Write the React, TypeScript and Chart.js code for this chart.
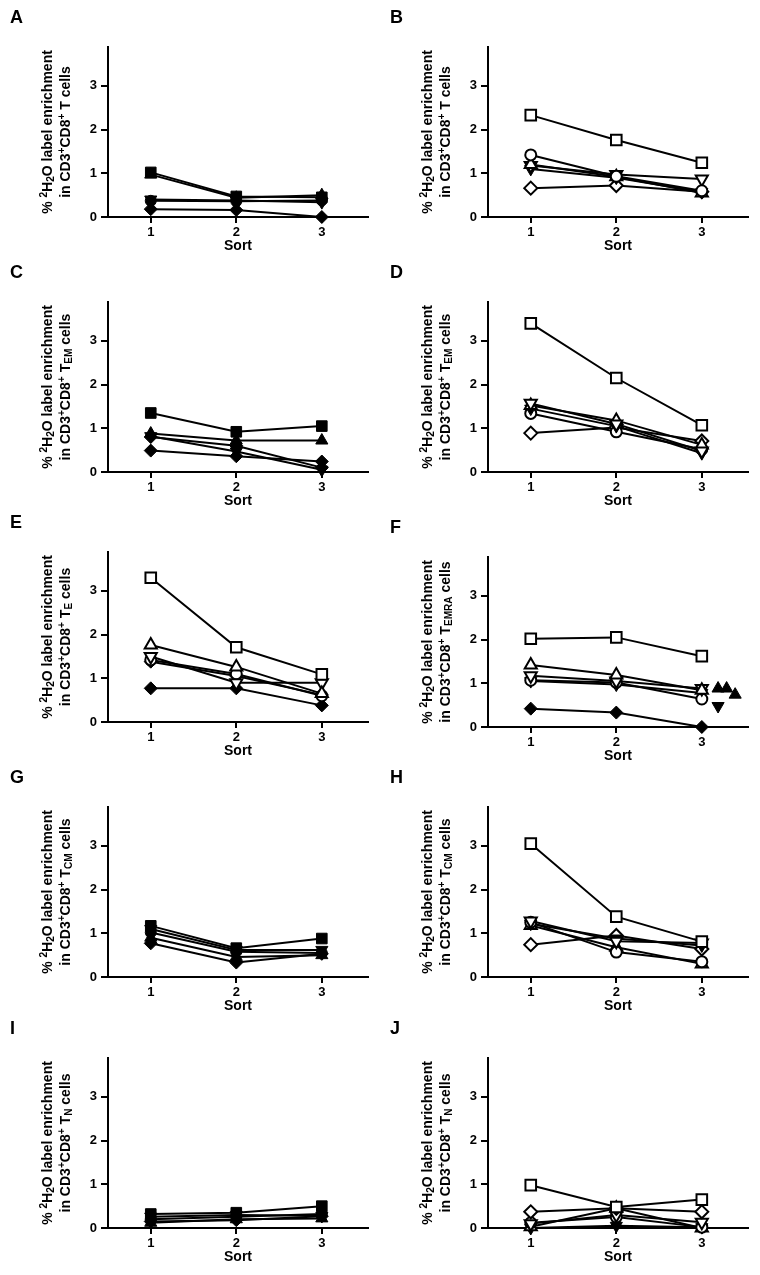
import React, { useEffect, useRef } from "react";
import { Chart, registerables } from "chart.js";

Chart.register(...registerables);

const FONT = '"Liberation Sans", Arial, Helvetica, sans-serif';

const SORTS = [1, 2, 3];
const X_TICKS = [1, 2, 3];
const Y_TICKS = [0, 1, 2, 3];
const X_TITLE = "Sort";

// Panel A (CD3+CD8+ T cells, filled symbols)
const A_VALUES = [
  [1.02, 0.47, 0.45],
  [0.97, 0.44, 0.5],
  [0.4, 0.38, 0.34],
  [0.37, 0.36, 0.38],
  [0.18, 0.16, 0.0],
];
const A_MARKERS = ["square", "triUp", "triDown", "circle", "diamond"];

// Panel B (CD3+CD8+ T cells, open symbols)
const B_VALUES = [
  [2.33, 1.76, 1.24],
  [1.42, 0.93, 0.6],
  [1.2, 0.92, 0.55],
  [1.18, 0.97, 0.87],
  [1.1, 0.9, 0.57],
  [0.66, 0.72, 0.58],
];
const B_MARKERS = ["square-o", "circle-o", "triUp-o", "triDown-o", "triDown", "diamond-o"];

// Panel C (TEM, filled)
const C_VALUES = [
  [1.35, 0.92, 1.05],
  [0.88, 0.72, 0.72],
  [0.82, 0.47, 0.05],
  [0.8, 0.6, 0.1],
  [0.49, 0.36, 0.24],
];
const C_MARKERS = ["square", "triUp", "triDown", "diamond", "diamond"];

// Panel D (TEM, open)
const D_VALUES = [
  [3.4, 2.15, 1.07],
  [1.57, 1.1, 0.48],
  [1.52, 1.18, 0.62],
  [1.45, 1.05, 0.43],
  [1.34, 0.92, 0.52],
  [0.89, 1.02, 0.71],
];
const D_MARKERS = ["square-o", "triDown-o", "triUp-o", "triDown", "circle-o", "diamond-o"];

// Panel E (TE)
const E_VALUES = [
  [3.3, 1.71, 1.09],
  [1.76, 1.26, 0.65],
  [1.5, 0.9, 0.9],
  [1.42, 1.1, 0.6],
  [1.38, 1.05, 0.62],
  [0.77, 0.77, 0.38],
];
const E_MARKERS = ["square-o", "triUp-o", "triDown-o", "circle-o", "diamond", "diamond"];

// Panel F (TEMRA)
const F_VALUES = [
  [2.02, 2.05, 1.62],
  [1.42, 1.19, 0.84],
  [1.17, 1.05, 0.88],
  [1.07, 1.02, 0.64],
  [1.05, 0.97, 0.78],
  [0.42, 0.33, 0.0],
];
const F_MARKERS = ["square-o", "triUp-o", "triDown-o", "circle-o", "triDown", "diamond"];
const F_EXTRA_UP_X = [3.19, 3.29, 3.39];
const F_EXTRA_UP_Y = [0.88, 0.88, 0.74];
const F_EXTRA_DOWN_X = [3.19];
const F_EXTRA_DOWN_Y = [0.48];

// Panel G (TCM, filled)
const G_VALUES = [
  [1.17, 0.66, 0.88],
  [1.1, 0.62, 0.62],
  [1.02, 0.58, 0.55],
  [0.9, 0.46, 0.5],
  [0.77, 0.33, 0.53],
];
const G_MARKERS = ["square", "triDown", "circle", "triUp", "diamond"];

// Panel H (TCM, open)
const H_VALUES = [
  [3.05, 1.38, 0.81],
  [1.28, 0.82, 0.78],
  [1.25, 0.57, 0.35],
  [1.22, 0.88, 0.72],
  [1.18, 0.68, 0.3],
  [0.74, 0.95, 0.64],
];
const H_MARKERS = ["square-o", "triDown-o", "circle-o", "triDown", "triUp-o", "diamond-o"];

// Panel I (TN, filled)
const I_VALUES = [
  [0.32, 0.35, 0.5],
  [0.26, 0.3, 0.28],
  [0.2, 0.26, 0.32],
  [0.12, 0.2, 0.22],
  [0.15, 0.18, 0.27],
];
const I_MARKERS = ["square", "triDown", "circle", "triUp", "diamond"];

// Panel J (TN, open)
const J_VALUES = [
  [0.98, 0.48, 0.65],
  [0.37, 0.45, 0.37],
  [0.1, 0.3, 0.13],
  [0.12, 0.25, 0.02],
  [0.03, 0.45, 0.0],
  [0.0, 0.05, 0.02],
];
const J_MARKERS = ["square-o", "diamond-o", "triDown-o", "circle-o", "triUp-o", "triDown"];

const PANEL_LETTERS = ["A", "B", "C", "D", "E", "F", "G", "H", "I", "J"];
const PANEL_SUBS = ["", "", "EM", "EM", "E", "EMRA", "CM", "CM", "N", "N"];
const PANEL_VALUES = [A_VALUES, B_VALUES, C_VALUES, D_VALUES, E_VALUES, F_VALUES, G_VALUES, H_VALUES, I_VALUES, J_VALUES];
const PANEL_MARKERS = [A_MARKERS, B_MARKERS, C_MARKERS, D_MARKERS, E_MARKERS, F_MARKERS, G_MARKERS, H_MARKERS, I_MARKERS, J_MARKERS];

// layout
const PANEL_ZERO_Y = [217, 217, 472, 472, 722, 727, 977, 977, 1228, 1228];
const COL_X = [0, 380];
const Y_MAX = 3.9;
const PLOT_H = 170.5;
const CANVAS_W = 380;
const CANVAS_H = 242;
const ZERO_IN_CANVAS = 200;
const X_AXIS_H = 37.4;
const Y_AXIS_W = 108;
const PAD_RIGHT = 12;

function markerStyle(m: string) {
  const open = m.endsWith("-o");
  const shape = m.replace("-o", "");
  let pointStyle: any = "circle";
  let radius = 5.5;
  let rotation = 0;
  if (shape === "square") {
    pointStyle = "rect";
    radius = 7.5;
  } else if (shape === "triUp") {
    pointStyle = "triangle";
    radius = 7;
  } else if (shape === "triDown") {
    pointStyle = "triangle";
    radius = 7;
    rotation = 180;
  } else if (shape === "diamond") {
    pointStyle = "rectRot";
    radius = 6.5;
  }
  return {
    pointStyle,
    pointRadius: radius,
    pointHoverRadius: radius,
    pointRotation: rotation,
    pointBackgroundColor: open ? "#ffffff" : "#000000",
    pointBorderColor: "#000000",
    pointBorderWidth: open ? 2 : 1,
  };
}

function Panel({ index }: { index: number }) {
  const ref = useRef<HTMLCanvasElement>(null);
  useEffect(() => {
    const values = PANEL_VALUES[index];
    const markers = PANEL_MARKERS[index];
    const datasets: any[] = values.map((vals, i) => ({
      data: SORTS.map((s, j) => ({ x: s, y: vals[j] })),
      showLine: true,
      borderColor: "#000000",
      borderWidth: 2,
      clip: false,
      ...markerStyle(markers[i]),
    }));
    if (PANEL_LETTERS[index] === "F") {
      datasets.push({
        data: F_EXTRA_UP_X.map((x, j) => ({ x, y: F_EXTRA_UP_Y[j] })),
        showLine: false,
        clip: false,
        ...markerStyle("triUp"),
      });
      datasets.push({
        data: F_EXTRA_DOWN_X.map((x, j) => ({ x, y: F_EXTRA_DOWN_Y[j] })),
        showLine: false,
        clip: false,
        ...markerStyle("triDown"),
      });
    }
    const tickFont = { family: FONT, size: 13, weight: "bold" as const };
    const chart = new Chart(ref.current as HTMLCanvasElement, {
      type: "scatter",
      data: { datasets },
      options: {
        responsive: false,
        animation: false,
        devicePixelRatio: 1,
        layout: {
          autoPadding: false,
          padding: {
            left: 0,
            right: PAD_RIGHT,
            top: ZERO_IN_CANVAS - PLOT_H,
            bottom: CANVAS_H - ZERO_IN_CANVAS - X_AXIS_H,
          },
        },
        plugins: { legend: { display: false }, tooltip: { enabled: false } },
        scales: {
          x: {
            type: "linear",
            min: 0.5,
            max: 3.54,
            afterBuildTicks: (s: any) => {
              s.ticks = X_TICKS.map((v) => ({ value: v }));
            },
            afterFit: (s: any) => {
              s.height = X_AXIS_H;
            },
            grid: { drawOnChartArea: false, drawTicks: true, tickLength: 6, color: "#000", lineWidth: 2 },
            border: { display: true, color: "#000", width: 2 },
            ticks: { color: "#000", font: tickFont, padding: 2, maxRotation: 0, autoSkip: false, callback: (v: any) => String(v) },
            title: {
              display: true,
              text: X_TITLE,
              color: "#000",
              font: { family: FONT, size: 14, weight: "bold" },
              padding: { top: 0, bottom: 0 },
            },
          },
          y: {
            type: "linear",
            min: 0,
            max: Y_MAX,
            afterBuildTicks: (s: any) => {
              s.ticks = Y_TICKS.map((v) => ({ value: v }));
            },
            afterFit: (s: any) => {
              s.width = Y_AXIS_W;
            },
            grid: { drawOnChartArea: false, drawTicks: true, tickLength: 7, color: "#000", lineWidth: 2 },
            border: { display: true, color: "#000", width: 2 },
            ticks: { color: "#000", font: tickFont, padding: 4, autoSkip: false, callback: (v: any) => String(v) },
          },
        },
      } as any,
    });
    return () => chart.destroy();
  }, [index]);

  const col = COL_X[index % 2];
  const zero = PANEL_ZERO_Y[index];
  const sub = PANEL_SUBS[index];
  const supStyle: React.CSSProperties = { fontSize: "0.72em", lineHeight: 0, verticalAlign: "0.5em" };
  const subStyle: React.CSSProperties = { fontSize: "0.72em", lineHeight: 0, verticalAlign: "-0.2em" };
  return (
    <>
      <canvas
        ref={ref}
        width={CANVAS_W}
        height={CANVAS_H}
        style={{ position: "absolute", left: col, top: zero - ZERO_IN_CANVAS, width: CANVAS_W, height: CANVAS_H }}
      />
      <div
        style={{
          position: "absolute",
          left: col + 10,
          top: zero - 210,
          font: `bold 18px ${FONT}`,
          color: "#000",
        }}
      >
        {PANEL_LETTERS[index]}
      </div>
      <div
        style={{
          position: "absolute",
          left: col + 56,
          top: zero - 85,
          transform: "translate(-50%, -50%) rotate(-90deg)",
          whiteSpace: "nowrap",
          textAlign: "center",
          font: `bold 14px ${FONT}`,
          lineHeight: "18px",
          color: "#000",
        }}
      >
        <div>
          % <span style={supStyle}>2</span>H<span style={subStyle}>2</span>O label enrichment
        </div>
        <div>
          in CD3<span style={supStyle}>+</span>CD8<span style={supStyle}>+</span> T
          {sub ? <span style={subStyle}>{sub}</span> : null} cells
        </div>
      </div>
    </>
  );
}

export default function App() {
  return (
    <div style={{ position: "absolute", left: 0, top: 0, width: 760, height: 1275, background: "#fff", overflow: "hidden" }}>
      {PANEL_LETTERS.map((_, i) => (
        <Panel key={i} index={i} />
      ))}
    </div>
  );
}
